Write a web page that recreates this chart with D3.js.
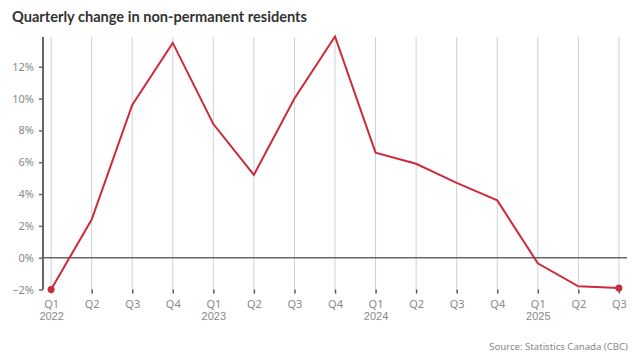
<!DOCTYPE html>
<html><head><meta charset="utf-8">
<script src="https://cdn.jsdelivr.net/npm/d3@7"></script>
<style>body{margin:0;background:#fff;}svg{display:block;font-family:"Noto Sans",sans-serif;}</style>
</head><body>
<svg id="c" width="640" height="361"></svg>
<script>
const quarters = ["Q1","Q2","Q3","Q4","Q1","Q2","Q3","Q4","Q1","Q2","Q3","Q4","Q1","Q2","Q3"];
const years = ["2022","","","","2023","","","","2024","","","","2025","",""];
const values = [-2.0,2.4,9.6,13.5,8.4,5.2,10.0,13.9,6.6,5.9,4.7,3.6,-0.35,-1.8,-1.9];
const yTicks = [-2,0,2,4,6,8,10,12];
const title = "Quarterly change in non-permanent residents";
const source = "Source: Statistics Canada (CBC)";

const svg = d3.select("#c");
const idx = d3.range(values.length);
const x = d3.scalePoint().domain(idx).range([43,627]).padding(0.2);
const y = d3.scaleLinear().domain([-2,13.87]).range([289.5,37]);

// vertical grid
svg.append("g").selectAll("line").data(idx).join("line")
  .attr("x1",d=>x(d)).attr("x2",d=>x(d)).attr("y1",y.range()[1]).attr("y2",y(-2))
  .attr("stroke","#c9d2da").attr("stroke-width",1);

// x axis ticks + labels
const xAxis = d3.axisBottom(x).tickSize(4).tickPadding(7).tickFormat(d=>quarters[d]);
const gx = svg.append("g").attr("transform",`translate(0,${y(-2)})`).call(xAxis);
gx.select(".domain").remove();
gx.selectAll(".tick line").attr("stroke","#555").attr("stroke-width",1.5);
gx.selectAll(".tick text").attr("fill","#888").attr("font-size",11).attr("font-family","Noto Sans");
gx.selectAll(".tick").append("text").attr("y",23).attr("dy","0.71em")
  .attr("text-anchor","middle").attr("fill","#888").attr("font-size",11)
  .text(d=>years[d]);

// y axis
const yAxis = d3.axisLeft(y).tickValues(yTicks).tickSize(4).tickPadding(5)
  .tickFormat(d=>(d<0?"\u2212":"")+Math.abs(d)+"%");
const gy = svg.append("g").attr("transform","translate(43,0)").call(yAxis);
gy.select(".domain").attr("d",`M0,${y.range()[1]}V${y(-2)}`).attr("stroke","#666").attr("stroke-width",2);
gy.selectAll(".tick line").attr("stroke","#666").attr("stroke-width",1.5);
gy.selectAll(".tick text").attr("fill","#888").attr("font-size",11).attr("font-family","Noto Sans");

// zero line
svg.append("line").attr("x1",43).attr("x2",627).attr("y1",y(0)).attr("y2",y(0))
  .attr("stroke","#666").attr("stroke-width",1.5);

// line
svg.append("path").datum(values)
  .attr("d",d3.line().x((d,i)=>x(i)).y(d=>y(d)))
  .attr("fill","none").attr("stroke","#cc2b3b").attr("stroke-width",2).attr("stroke-linejoin","miter");

svg.append("g").selectAll("circle").data([0,values.length-1]).join("circle")
  .attr("cx",i=>x(i)).attr("cy",i=>y(values[i])).attr("r",3.5).attr("fill","#cc2b3b");

// title
svg.append("text").attr("x",12).attr("y",22).attr("font-size",14.6).attr("font-weight","bold")
  .attr("font-family","Lato").attr("fill","#333").text(title);

// source
svg.append("text").attr("x",628).attr("y",350).attr("text-anchor","end").attr("font-size",9.6)
  .attr("fill","#888").text(source);
</script>
</body></html>
